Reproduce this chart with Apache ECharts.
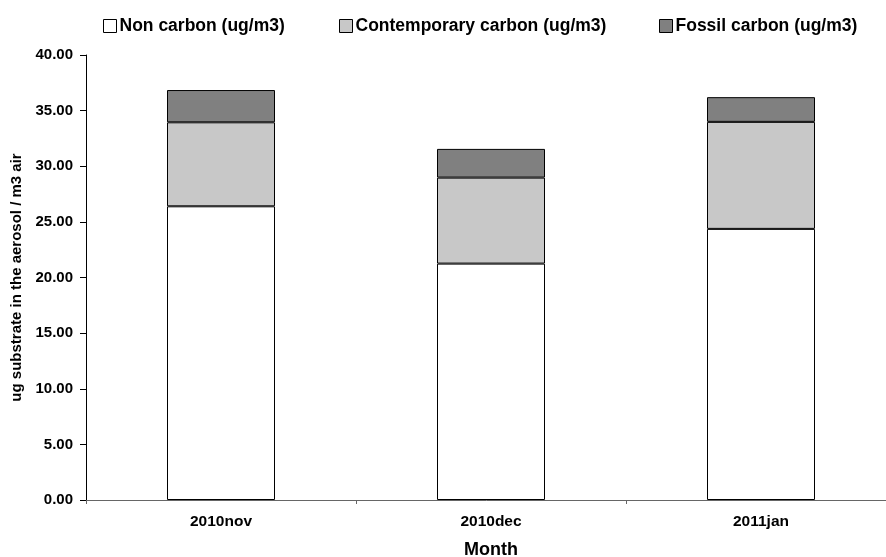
<!DOCTYPE html>
<html><head><meta charset="utf-8">
<script src="https://cdn.jsdelivr.net/npm/echarts@6/dist/echarts.min.js"></script>
<style>html,body{margin:0;padding:0;background:#fff;overflow:hidden}#c{width:886px;height:557px}</style>
</head><body><div id="c"></div>
<script>
const categories = ['2010nov', '2010dec', '2011jan'];
const nonCarbon = [26.4, 21.25, 24.37];
const contemporary = [7.55, 7.73, 9.62];
const fossil = [2.9, 2.58, 2.22];
const seriesNames = ['Non carbon (ug/m3)', 'Contemporary carbon (ug/m3)', 'Fossil carbon (ug/m3)'];
const colors = ['#ffffff', '#c8c8c8', '#808080'];
const values = [nonCarbon, contemporary, fossil];

const font = 'Liberation Sans, Arial, sans-serif';
const chart = echarts.init(document.getElementById('c'), null, {renderer: 'canvas'});
const legendLefts = [98, 334, 654];
chart.setOption({
  animation: false,
  backgroundColor: '#fff',
  legend: seriesNames.map((n, i) => ({
    data: [n], left: legendLefts[i], top: 12, itemWidth: 13, itemHeight: 13, itemGap: 0,
    icon: 'rect',
    itemStyle: {borderColor: '#000', borderWidth: 1},
    textStyle: {fontFamily: font, fontWeight: 'bold', fontSize: 17.5, color: '#000', padding: [0,0,0,-2]}
  })),
  grid: {left: 86, top: 55, width: 810, height: 445, outerBoundsMode: 'none', containLabel: false},
  xAxis: {
    type: 'category', data: categories,
    name: 'Month', nameLocation: 'middle', nameGap: 41,
    nameTextStyle: {fontFamily: font, fontWeight: 'bold', fontSize: 18, color: '#000'},
    axisLine: {lineStyle: {color: '#666', width: 1}},
    axisTick: {show: true, length: 4, lineStyle: {color: '#666'}},
    axisLabel: {fontFamily: font, fontWeight: 'bold', fontSize: 15.5, color: '#000', margin: 14}
  },
  yAxis: {
    type: 'value', min: 0, max: 40, interval: 5,
    name: 'ug substrate in the aerosol / m3 air', nameLocation: 'middle', nameGap: 60, nameRotate: 90,
    nameTextStyle: {fontFamily: font, fontWeight: 'bold', fontSize: 15, color: '#000'},
    axisLine: {show: true, lineStyle: {color: '#000', width: 1}},
    axisTick: {show: true, length: 6, lineStyle: {color: '#000'}},
    splitLine: {show: false},
    axisLabel: {fontFamily: font, fontWeight: 'bold', fontSize: 15, color: '#000', margin: 13,
      formatter: v => v.toFixed(2)}
  },
  series: seriesNames.map((n, i) => ({
    name: n, type: 'bar', stack: 'total', data: values[i], barWidth: '40%',
    itemStyle: {color: colors[i], borderColor: '#000', borderWidth: 1}
  }))
});
</script></body></html>
